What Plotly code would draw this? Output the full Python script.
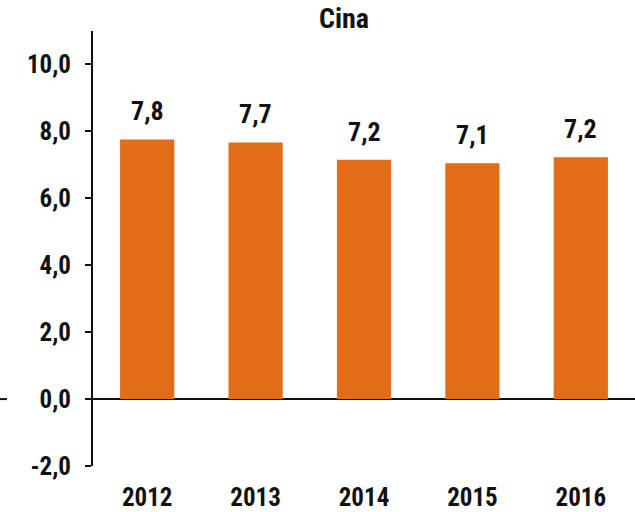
import plotly.graph_objects as go

years = ["2012", "2013", "2014", "2015", "2016"]
values = [7.76, 7.67, 7.15, 7.05, 7.23]
labels = ["7,8", "7,7", "7,2", "7,1", "7,2"]
tick_vals = [-2, 0, 2, 4, 6, 8, 10]
tick_text = ["-2,0", "0,0", "2,0", "4,0", "6,0", "8,0", "10,0"]
title = "Cina"

FONT = "Liberation Sans Narrow, Roboto Condensed, DejaVu Sans Condensed, Roboto, sans-serif"
BAR = "#E36C19"

fig = go.Figure()
fig.add_trace(go.Bar(x=years, y=values, width=0.5, marker=dict(color=BAR, line=dict(width=0)),
                     hoverinfo="skip"))

for i, (v, t) in enumerate(zip(values, labels)):
    fig.add_annotation(x=i, y=v, text=f"<b>{t}</b>", showarrow=False, yanchor="middle",
                       yshift=28, font=dict(family=FONT, size=26, color="#111111"))

fig.add_annotation(xref="paper", yref="paper", x=0.464, y=1 + 13 / 435, text=f"<b>{title}</b>",
                   showarrow=False, xanchor="center", yanchor="middle",
                   font=dict(family=FONT, size=28, color="#111111"))

# stray short segment at left edge at zero level
fig.add_shape(type="line", xref="paper", yref="y", x0=-93 / 542, x1=-86 / 542, y0=0, y1=0,
              line=dict(color="#111111", width=2))

fig.update_layout(
    width=635, height=512,
    margin=dict(l=93, r=0, t=31, b=46, autoexpand=False),
    paper_bgcolor="white", plot_bgcolor="white",
    showlegend=False,
    font=dict(family=FONT, size=25, color="#111111"),
)
fig.update_xaxes(type="category", range=[-0.5, 4.5], showline=False, showgrid=False,
                 zeroline=False, ticks="", automargin=False,
                 tickfont=dict(family=FONT, size=25, color="#111111", weight="bold"),
                 ticklabelstandoff=14)
fig.update_yaxes(range=[-2, 11], showgrid=False, zeroline=True, zerolinecolor="#111111",
                 zerolinewidth=2, showline=True, linecolor="#111111", linewidth=2,
                 ticks="outside", ticklen=6, tickwidth=2, tickcolor="#111111", automargin=False,
                 tickvals=tick_vals, ticktext=tick_text, ticklabelstandoff=9,
                 tickfont=dict(family=FONT, size=25, color="#111111", weight="bold"))

fig.write_html("out.html", config={"displayModeBar": False},
               post_script="document.body.style.margin='0';")
